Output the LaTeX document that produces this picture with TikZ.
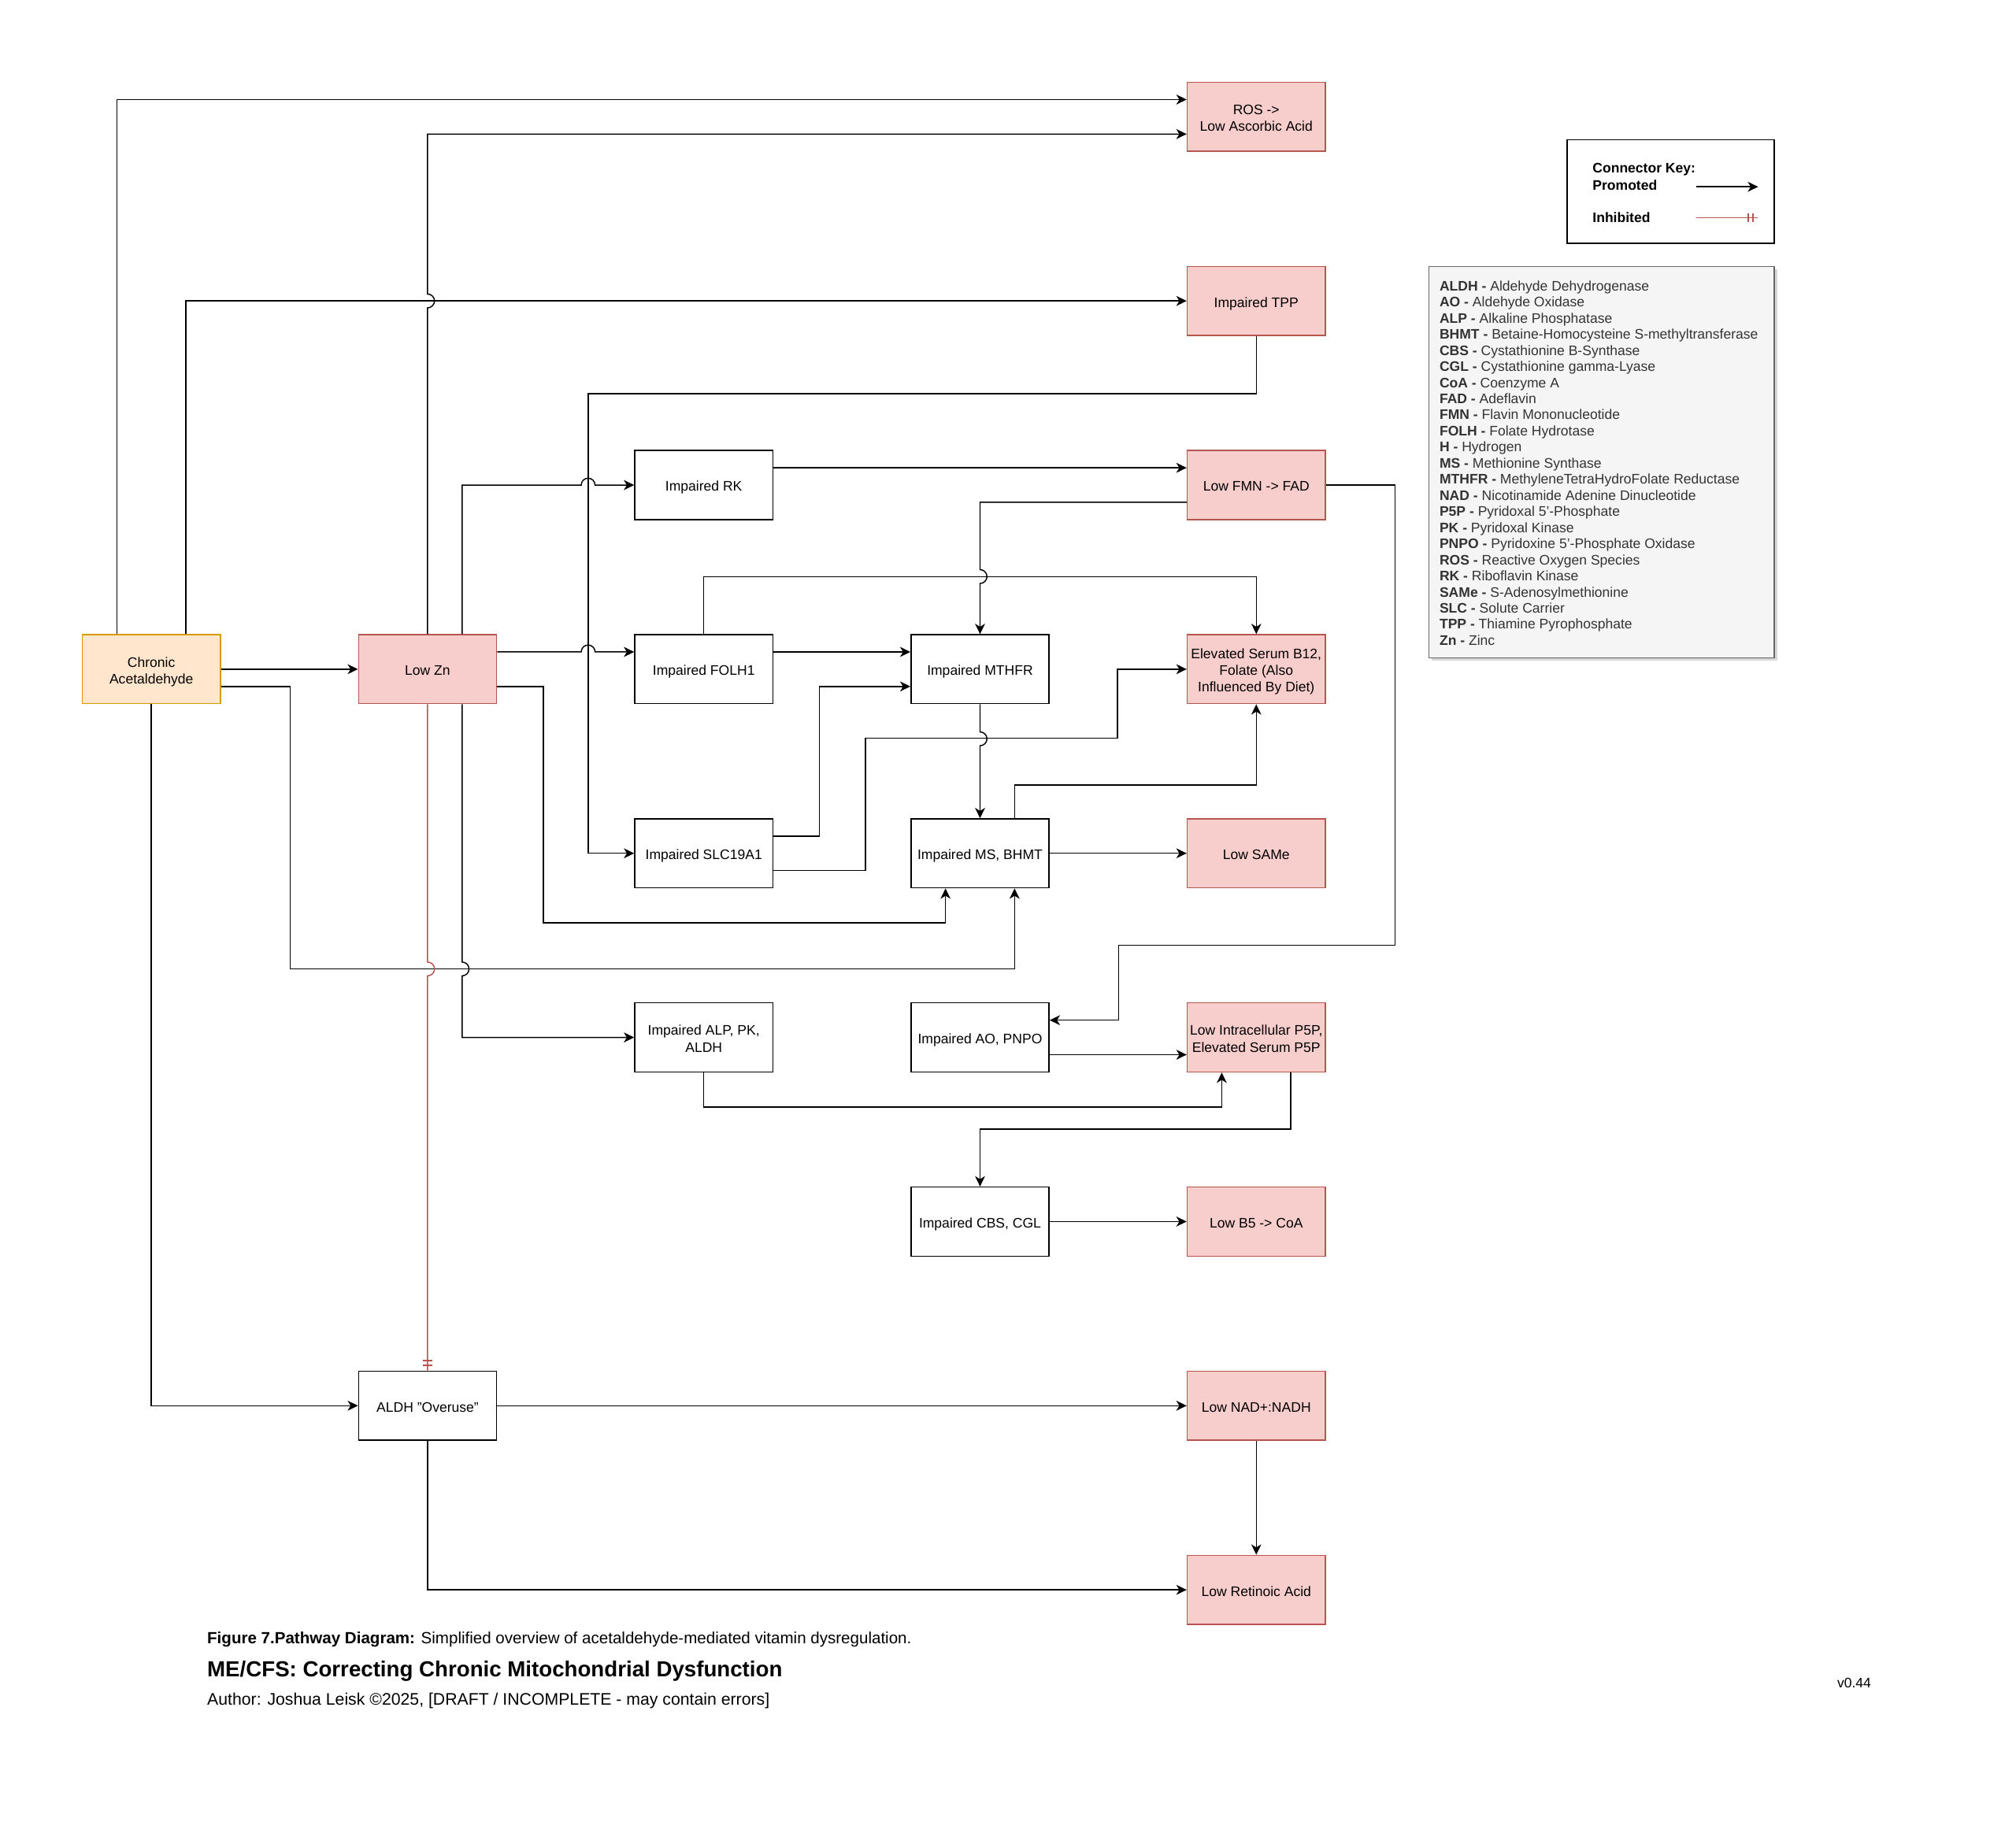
\documentclass[tikz,border=0pt]{standalone}
\usepackage{fontspec}
\setmainfont{Liberation Sans}
\usetikzlibrary{arrows.meta,calc,shadows}
\definecolor{redfill}{HTML}{F8CECC}
\definecolor{redline}{HTML}{B85450}
\definecolor{orfill}{HTML}{FFE6CC}
\definecolor{orline}{HTML}{D79B00}
\definecolor{grfill}{HTML}{F5F5F5}
\definecolor{grline}{HTML}{666666}
\definecolor{grtext}{HTML}{333333}
\newcommand{\bxt}[1]{\raisebox{-1.9pt}[\height][\depth]{\begin{tabular}{@{}c@{}}#1\end{tabular}}}
\begin{document}
\begin{tikzpicture}[x=0.75pt,y=-0.75pt,
  box/.style={draw=black,line width=0.75pt,minimum width=90pt,minimum height=45pt,inner sep=0pt,font=\fontsize{9}{10.8}\selectfont},
  wbox/.style={box,fill=white},
  rbox/.style={box,fill=redfill,draw=redline},
  obox/.style={box,fill=orfill,draw=orline},
  conn/.style={line width=0.75pt,draw=black,-{Stealth[length=6.75pt,width=6.5pt,inset=2pt]}},
  inh/.style={line width=0.75pt,draw=redline},
  txt/.style={inner sep=0pt,anchor=west}
]
\fill[white] (-71.5,-71.5) rectangle (1680.1,1511.1);
\useasboundingbox (-71.5,-71.5) rectangle (1680.1,1511.1);

% nodes
\node[obox] (ca) at (60,510) {\bxt{Chronic\\Acetaldehyde}};
\node[rbox] (zn) at (300,510) {\bxt{Low Zn}};
\node[wbox] (rk) at (540,350) {\bxt{Impaired RK}};
\node[wbox] (fo) at (540,510) {\bxt{Impaired FOLH1}};
\node[wbox] (slc) at (540,670) {\bxt{Impaired SLC19A1}};
\node[wbox] (alp) at (540,830) {\bxt{Impaired ALP, PK,\\ALDH}};
\node[wbox] (mt) at (780,510) {\bxt{Impaired MTHFR}};
\node[wbox] (ms) at (780,670) {\bxt{Impaired MS, BHMT}};
\node[wbox] (ao) at (780,830) {\bxt{Impaired AO, PNPO}};
\node[wbox] (cbs) at (780,990) {\bxt{Impaired CBS, CGL}};
\node[rbox] (ros) at (1020,30) {\bxt{ROS ->\\Low Ascorbic Acid}};
\node[rbox] (tpp) at (1020,190) {\bxt{Impaired TPP}};
\node[rbox] (fmn) at (1020,350) {\bxt{Low FMN -> FAD}};
\node[rbox] (b12) at (1020,510) {\bxt{Elevated Serum B12,\\Folate (Also\\Influenced By Diet)}};
\node[rbox] (same) at (1020,670) {\bxt{Low SAMe}};
\node[rbox] (p5p) at (1020,830) {\bxt{Low Intracellular P5P,\\Elevated Serum P5P}};
\node[rbox] (b5) at (1020,990) {\bxt{Low B5 -> CoA}};
\node[rbox] (nad) at (1020,1150) {\bxt{Low NAD+:NADH}};
\node[rbox] (ret) at (1020,1310) {\bxt{Low Retinoic Acid}};
\node[wbox] (aldh) at (300,1150) {\bxt{ALDH "Overuse"}};

% connectors
\draw[conn] ($(ca.north)+(-30,0)$) |- ($(ros.west)+(0,-15)$);
\draw[conn] (zn.north) -- ($(zn.north |- tpp.west)+(0,6)$) arc[start angle=-90,end angle=90,radius=4.5pt] |- ($(ros.west)+(0,15)$);
\draw[conn] ($(ca.north)+(30,0)$) |- (tpp.west);
\draw[conn] (tpp.south) -- ++(0,50) -| ($(slc.west)+(-40,0)$) -- (slc.west);
\draw[conn] ($(zn.north)+(30,0)$) |- ($(rk.west)+(-46,0)$) arc[start angle=180,end angle=0,radius=4.5pt] -- (rk.west);
\draw[conn] ($(zn.east)+(0,-15)$) -- ($(fo.west)+(-46,-15)$) arc[start angle=180,end angle=0,radius=4.5pt] -- ($(fo.west)+(0,-15)$);
\draw[conn] (ca.east) -- (zn.west);
\draw[conn] ($(ca.east)+(0,15)$) -- ++(60,0) |- ($(ms.south)+(30,70)$) -- ($(ms.south)+(30,0)$);
\draw[conn] ($(zn.east)+(0,15)$) -- ++(40,0) |- ($(ms.south)+(-30,30)$) -- ($(ms.south)+(-30,0)$);
\draw[conn] ($(zn.south)+(30,0)$) -- ($(zn.south)+(30,224)$) arc[start angle=90,end angle=-90,radius=4.5pt] |- (alp.west);
\draw[inh] (zn.south) -- ($(zn.south)+(0,224)$) arc[start angle=90,end angle=-90,radius=4.5pt] -- (aldh.north);
\draw[inh] ($(aldh.north)+(-4,-4.6)$) -- ($(aldh.north)+(4,-4.6)$);
\draw[inh] ($(aldh.north)+(-4,-8.6)$) -- ($(aldh.north)+(4,-8.6)$);
\draw[conn] (ca.south) |- (aldh.west);
\draw[conn] (aldh.east) -- (nad.west);
\draw[conn] (aldh.south) |- (ret.west);
\draw[conn] (nad.south) -- (ret.north);
\draw[conn] ($(rk.east)+(0,-15)$) -- ($(fmn.west)+(0,-15)$);
\draw[conn] ($(fmn.west)+(0,15)$) -| ($(mt.north)+(0,-56)$) arc[start angle=90,end angle=-90,radius=4.5pt] -- (mt.north);
\draw[conn] (fmn.east) -- ++(60,0) |- ($(ao.east)+(60,-80)$) |- ($(ao.east)+(0,-15)$);
\draw[conn] (fo.north) -- ++(0,-50) -| (b12.north);
\draw[conn] ($(fo.east)+(0,-15)$) -- ($(mt.west)+(0,-15)$);
\draw[conn] ($(slc.east)+(0,-15)$) -- ++(40,0) |- ($(mt.west)+(0,15)$);
\draw[conn] ($(slc.east)+(0,15)$) -- ++(80,0) |- ($(b12.west)+(-60,60)$) |- (b12.west);
\draw[conn] (mt.south) -- ($(mt.south)+(0,24)$) arc[start angle=90,end angle=-90,radius=4.5pt] -- (ms.north);
\draw[conn] ($(ms.north)+(30,0)$) |- ($(b12.south)+(0,70)$) -- (b12.south);
\draw[conn] (ms.east) -- (same.west);
\draw[conn] (alp.south) |- ($(p5p.south)+(-30,30)$) -- ($(p5p.south)+(-30,0)$);
\draw[conn] ($(ao.east)+(0,15)$) -- ($(p5p.west)+(0,15)$);
\draw[conn] ($(p5p.south)+(30,0)$) |- ($(cbs.north)+(0,-50)$) -- (cbs.north);
\draw[conn] (cbs.east) -- (b5.west);

% connector key
\node[draw=black,line width=0.75pt,fill=white,minimum width=135pt,minimum height=67.5pt,inner sep=0pt] (key) at (1380,95) {};
\node[txt,font=\fontsize{9}{10.8}\selectfont\bfseries] (keyt) at (1312,75.6) {Connector Key:};
\node[txt,font=\fontsize{9}{10.8}\selectfont\bfseries] (keyp) at (1312,89.3) {Promoted};
\node[txt,font=\fontsize{9}{10.8}\selectfont\bfseries] (keyi) at (1312,117.3) {Inhibited};
\coordinate (pa) at (1402.6,90.8);
\coordinate (pb) at (1456,90.8);
\draw[conn] (pa) -- (pb);
\coordinate (ia) at (1402.6,117.7);
\coordinate (ib) at (1455.5,117.7);
\draw[inh] (ia) -- (ib);
\draw[inh] ($(ib)+(-4,-3.5)$) -- ($(ib)+(-4,3.5)$);
\draw[inh] ($(ib)+(-8,-3.5)$) -- ($(ib)+(-8,3.5)$);

% legend
\node[fill=grfill,draw=grline,line width=0.75pt,minimum width=225pt,minimum height=255pt,inner sep=0pt,
  drop shadow={shadow xshift=2pt,shadow yshift=-2pt,opacity=0.3}] (leg) at (1320,330) {};
\node[anchor=north west,inner sep=0pt,align=left,text=grtext,font=\fontsize{9}{10.5}\selectfont] (legt) at (1179,172.2) {%
\textbf{ALDH -} Aldehyde Dehydrogenase\\
\textbf{AO -} Aldehyde Oxidase\\
\textbf{ALP -} Alkaline Phosphatase\\
\textbf{BHMT -} Betaine-Homocysteine S-methyltransferase\\
\textbf{CBS -} Cystathionine B-Synthase\\
\textbf{CGL -} Cystathionine gamma-Lyase\\
\textbf{CoA -} Coenzyme A\\
\textbf{FAD -} Adeflavin\\
\textbf{FMN -} Flavin Mononucleotide\\
\textbf{FOLH -} Folate Hydrotase\\
\textbf{H -} Hydrogen\\
\textbf{MS -} Methionine Synthase\\
\textbf{MTHFR -} MethyleneTetraHydroFolate Reductase\\
\textbf{NAD -} Nicotinamide Adenine Dinucleotide\\
\textbf{P5P -} Pyridoxal 5'-Phosphate\\
\textbf{PK -} Pyridoxal Kinase\\
\textbf{PNPO -} Pyridoxine 5'-Phosphate Oxidase\\
\textbf{ROS -} Reactive Oxygen Species\\
\textbf{RK -} Riboflavin Kinase\\
\textbf{SAMe -} S-Adenosylmethionine\\
\textbf{SLC -} Solute Carrier\\
\textbf{TPP -} Thiamine Pyrophosphate\\
\textbf{Zn -} Zinc};

% captions
\node[txt,font=\fontsize{10.55}{12.6}\selectfont] (cap) at (108.3,1353) {\textbf{Figure 7.Pathway Diagram:} Simplified overview of acetaldehyde-mediated vitamin dysregulation.};
\node[txt,font=\fontsize{14.2}{17}\selectfont\bfseries] (title) at (108.3,1381) {ME/CFS: Correcting Chronic Mitochondrial Dysfunction};
\node[txt,font=\fontsize{10.9}{13}\selectfont] (auth) at (108.3,1406.5) {Author: Joshua Leisk ©2025, [DRAFT / INCOMPLETE - may contain errors]};
\node[inner sep=0pt,font=\fontsize{9}{10.8}\selectfont] (ver) at (1539.5,1391.1) {v0.44};
\end{tikzpicture}
\end{document}
